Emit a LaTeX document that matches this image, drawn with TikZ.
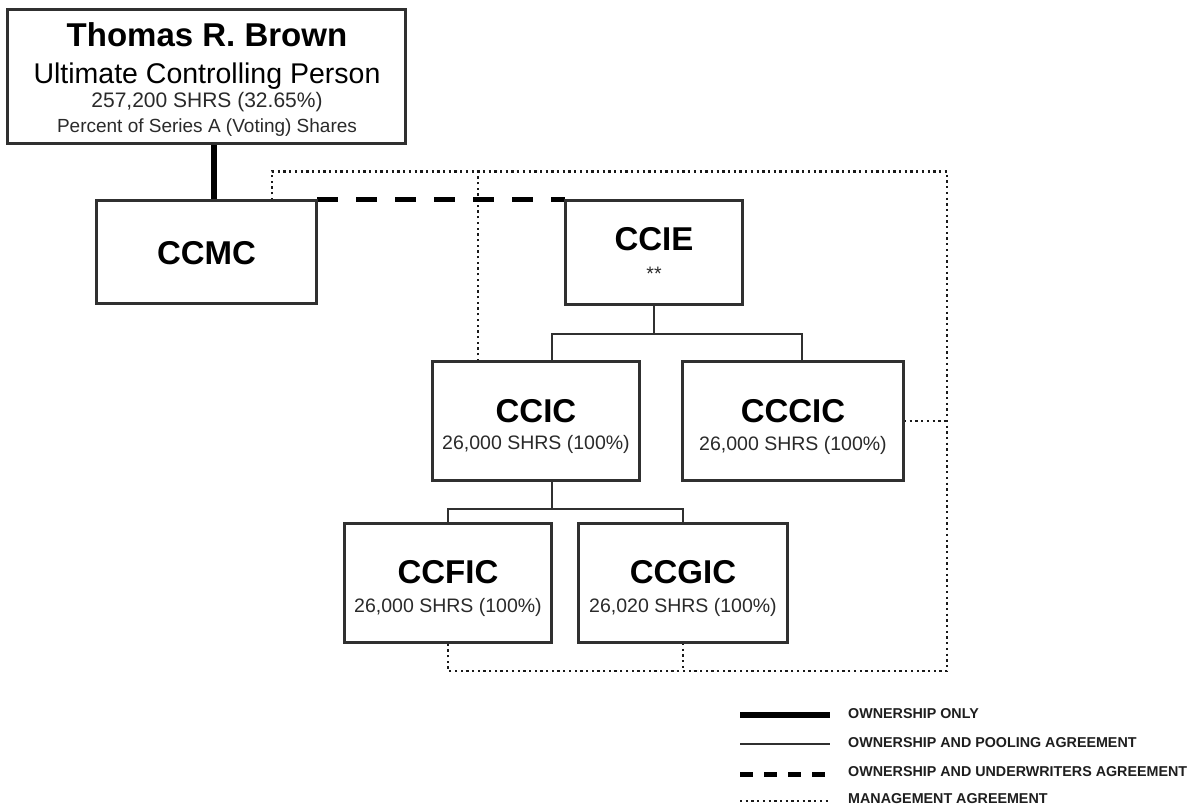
\documentclass[tikz,border=0pt]{standalone}
\usepackage{fontspec}
\setmainfont{Liberation Sans}
\definecolor{boxc}{HTML}{303030}
\definecolor{subc}{HTML}{2A2A2A}
\definecolor{legc}{HTML}{1E1E1E}
\definecolor{dotc}{HTML}{1A1A1A}
\tikzset{
  box/.style={draw=boxc, line width=2pt, fill=white, inner sep=0pt},
  cname/.style={font=\fontsize{33}{36}\selectfont\bfseries, inner sep=0pt, anchor=base},
  csub/.style={font=\fontsize{19.5}{22}\selectfont, text=subc, inner sep=0pt, anchor=base},
  ownline/.style={line width=6pt, draw=black},
  poolline/.style={line width=1.5pt, draw=boxc},
  uwline/.style={line width=5pt, draw=black, dash pattern=on 21pt off 18pt},
  mgmtline/.style={line width=2.4pt, draw=dotc, dash pattern=on 2.3pt off 3.4pt},
  legtext/.style={font=\fontsize{14.3}{16}\selectfont\bfseries, anchor=base west, inner sep=0pt, text=legc}
}
\begin{document}
\begin{tikzpicture}[x=1pt,y=-1pt]
\fill[white] (0,0) rectangle (1195,805);
\useasboundingbox (0,0) rectangle (1195,805);

% boxes (shapes only, named)
\node[box, minimum width=397pt, minimum height=133pt] (thomas) at (206.5,76.5) {};
\node[box, minimum width=219pt, minimum height=102pt] (ccmc) at (206.5,252) {};
\node[box, minimum width=176pt, minimum height=103pt] (ccie) at (654,252.5) {};
\node[box, minimum width=206pt, minimum height=118pt] (ccic) at (536,421) {};
\node[box, minimum width=220pt, minimum height=118pt] (cccic) at (793,421) {};
\node[box, minimum width=206pt, minimum height=118pt] (ccfic) at (448,583) {};
\node[box, minimum width=208pt, minimum height=118pt] (ccgic) at (683,583) {};

% helper coordinates
\coordinate (mtr) at (947,171.5);
\coordinate (mbr) at (947,671);
\coordinate (cm) at ([xshift=65.5pt]ccmc.north);
\coordinate (ct) at ([xshift=-58pt]ccic.north);
\coordinate (j1) at ([yshift=-29pt]ccie.south);
\coordinate (j2) at ([xshift=16pt,yshift=-28pt]ccic.south);

% management agreement (dotted)
\draw[mgmtline] (cm) |- (mtr) -- (mbr) -| (ccfic.south);
\draw[mgmtline] (ct) -- (ct |- mtr);
\draw[mgmtline] (ccgic.south) -- (ccgic.south |- mbr);
\draw[mgmtline] (cccic.east) -- (cccic.east -| mtr);

% ownership only
\draw[ownline] ([xshift=7.5pt]thomas.south) -- ([xshift=7.5pt]ccmc.north);
% ownership and underwriters agreement
\draw[uwline] (ccmc.north east) -- (ccie.north west);
% ownership and pooling agreement
\draw[poolline] (ccie.south) -- (j1);
\draw[poolline] ([xshift=16pt]ccic.north) |- (j1) -| ([xshift=9pt]cccic.north);
\draw[poolline] ([xshift=16pt]ccic.south) -- (j2);
\draw[poolline] (ccfic.north) |- (j2) -| (ccgic.north);

% redraw box borders on top
\foreach \b in {thomas,ccmc,ccie,ccic,cccic,ccfic,ccgic}{
  \draw[boxc, line width=2pt] (\b.north west) rectangle (\b.south east);
}

% texts
\node[anchor=base, inner sep=0pt, font=\fontsize{33}{36}\selectfont\bfseries] (tname) at (207,47) {Thomas R. Brown};
\node[anchor=base, inner sep=0pt, font=\fontsize{28.5}{30}\selectfont] (ttitle) at (207,84) {Ultimate Controlling Person};
\node[anchor=base, inner sep=0pt, text=subc, font=\fontsize{21}{23}\selectfont] (tshr) at (207,108) {257,200 SHRS (32.65\%)};
\node[anchor=base, inner sep=0pt, text=subc, font=\fontsize{19}{21}\selectfont] (tpct) at (207,133) {Percent of Series A (Voting) Shares};

\node[cname] (ccmcT) at (206.5,265) {CCMC};
\node[cname] (ccieT) at (654,251) {CCIE};
\node[csub] (ccieS) at (654,280) {**};
\node[cname] (ccicT) at (536,422) {CCIC};
\node[csub] (ccicS) at (536,449) {26,000 SHRS (100\%)};
\node[cname] (cccicT) at (793,422) {CCCIC};
\node[csub] (cccicS) at (793,450) {26,000 SHRS (100\%)};
\node[cname] (ccficT) at (448,583) {CCFIC};
\node[csub] (ccficS) at (448,612) {26,000 SHRS (100\%)};
\node[cname] (ccgicT) at (683,583) {CCGIC};
\node[csub] (ccgicS) at (683,612) {26,020 SHRS (100\%)};

% legend
\coordinate (la1) at (740,715); \coordinate (la2) at (830,715);
\coordinate (lb1) at (740,744); \coordinate (lb2) at (830,744);
\coordinate (lc1) at (740,774); \coordinate (lc2) at (830,774);
\coordinate (ld1) at (740,801); \coordinate (ld2) at (830,801);
\draw[ownline] (la1) -- (la2);
\draw[poolline] (lb1) -- (lb2);
\draw[line width=5pt, draw=black, dash pattern=on 13pt off 11pt] (lc1) -- (lc2);
\draw[mgmtline] (ld1) -- (ld2);
\node[legtext] (lta) at (848,718) {OWNERSHIP ONLY};
\node[legtext] (ltb) at (848,747) {OWNERSHIP AND POOLING AGREEMENT};
\node[legtext] (ltc) at (848,776) {OWNERSHIP AND UNDERWRITERS AGREEMENT};
\node[legtext] (ltd) at (848,803.5) {MANAGEMENT AGREEMENT};
\end{tikzpicture}
\end{document}
